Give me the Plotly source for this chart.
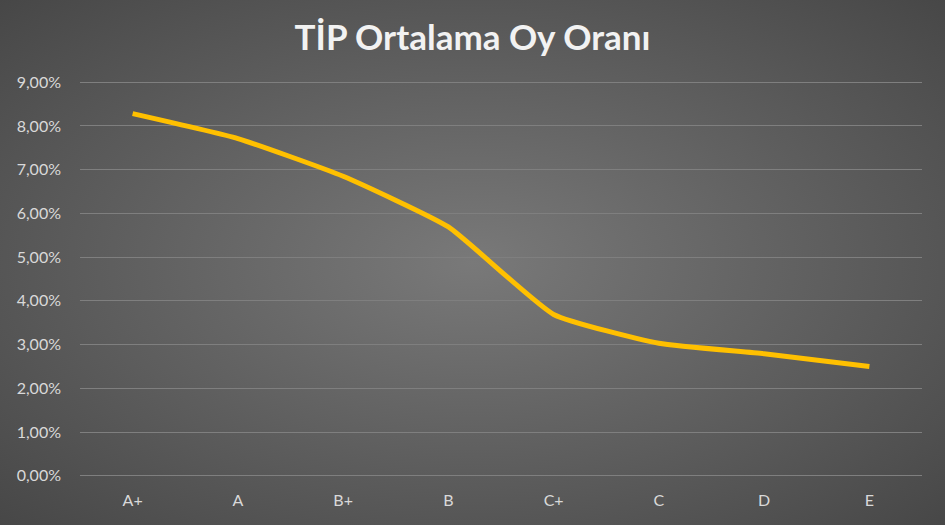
import plotly.graph_objects as go
import base64

categories = ["A+", "A", "B+", "B", "C+", "C", "D", "E"]
values = [0.0828, 0.0771, 0.0685, 0.0569, 0.0369, 0.0303, 0.0279, 0.0250]
y_ticks = [i / 100 for i in range(0, 10)]

svg = (
    '<svg xmlns="http://www.w3.org/2000/svg" width="945" height="525">'
    '<defs><radialGradient id="g" cx="50%" cy="50%" r="75%">'
    '<stop offset="0%" stop-color="#797979"/>'
    '<stop offset="100%" stop-color="#444444"/>'
    '</radialGradient></defs>'
    '<rect width="945" height="525" fill="url(#g)"/></svg>'
)
bg_uri = "data:image/svg+xml;base64," + base64.b64encode(svg.encode()).decode()

fig = go.Figure()
fig.add_trace(go.Scatter(
    x=categories, y=values, mode="lines",
    line=dict(color="#FFC000", width=5, shape="spline", smoothing=0.45),
    hoverinfo="x+y",
))

fig.update_layout(
    width=945, height=525,
    margin=dict(l=80, r=23, t=80, b=47),
    paper_bgcolor="#5e5e5e",
    plot_bgcolor="rgba(0,0,0,0)",
    separators=",.",
    showlegend=False,
    title=dict(
        text="<b>TİP Ortalama Oy Oranı</b>",
        x=0.5, xanchor="center", y=0.928, yanchor="middle",
        font=dict(family="Lato, Open Sans, sans-serif", size=35, color="#f2f2f2"),
    ),
    images=[dict(
        source=bg_uri, xref="paper", yref="paper",
        x=-80 / 842, y=1 + 80 / 398, sizex=945 / 842, sizey=525 / 398,
        xanchor="left", yanchor="top", sizing="stretch", layer="below",
    )],
    xaxis=dict(
        type="category", range=[-0.5, 7.5],
        showgrid=False, zeroline=False, showline=False,
        tickfont=dict(family="Lato, sans-serif", size=16, color="#d9d9d9"),
        ticks="", ticklabelstandoff=11,
    ),
    yaxis=dict(
        range=[-0.0005, 0.0905], tickvals=y_ticks, tickformat=".2%",
        showgrid=True, gridcolor="#7f7f7f", gridwidth=1,
        zeroline=False, showline=False,
        tickfont=dict(family="Lato, sans-serif", size=16, color="#d9d9d9"),
        ticks="", ticklabelstandoff=18,
    ),
)

fig.write_html(
    "out.html",
    config={"displayModeBar": False},
    post_script="document.body.style.margin='0';document.body.style.padding='0';",
)
